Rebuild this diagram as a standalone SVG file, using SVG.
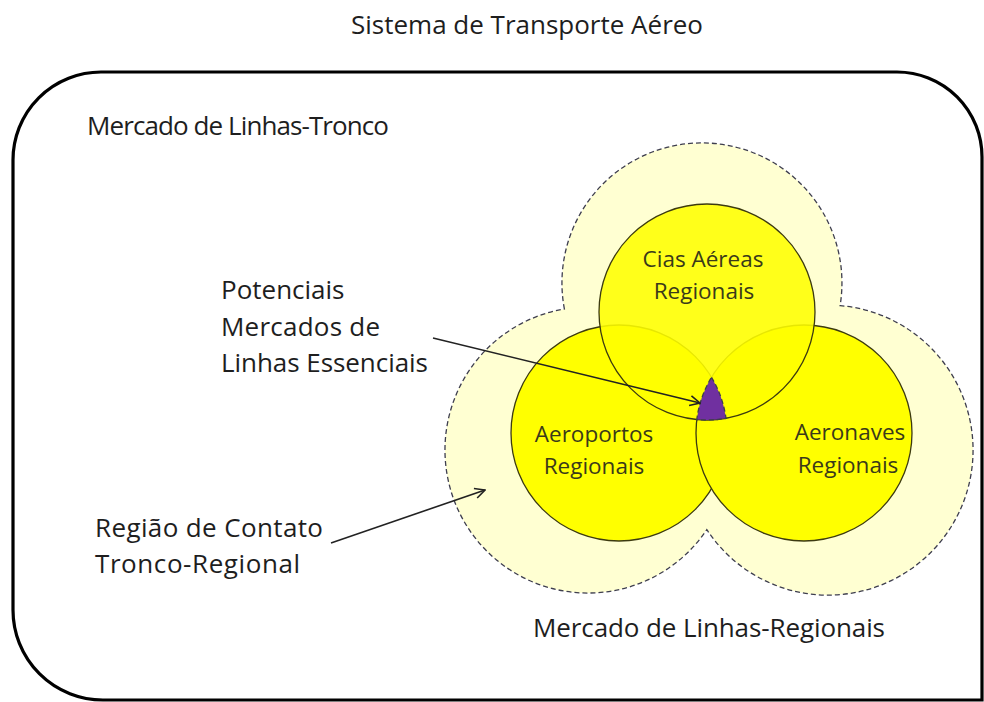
<svg xmlns="http://www.w3.org/2000/svg" width="984" height="702" viewBox="0 0 984 702">
<defs>
<style>
.t{font-family:"Open Sans","DejaVu Sans",sans-serif;font-size:26px;fill:#1e1e1e}
.c{font-family:"Open Sans","DejaVu Sans",sans-serif;font-size:22.5px;fill:#3a3a1a;text-anchor:middle}
.circ{fill:#ffff00;stroke:#3c3a10;stroke-width:1.3}
.dash{stroke:#3e3e4e;stroke-width:1.3;stroke-dasharray:5 3}
.arr{fill:none;stroke:#222;stroke-width:1.6}
</style>
<marker id="ah" viewBox="0 0 12 12" refX="11" refY="6" markerWidth="12" markerHeight="12" markerUnits="userSpaceOnUse" orient="auto">
<path d="M1,1 L11,6 L1,11" fill="none" stroke="#222" stroke-width="1.6"/>
</marker>
</defs>
<rect width="984" height="702" fill="#ffffff"/>
<g id="title"><text class="t" x="351" y="34" textLength="352">Sistema de Transporte Aéreo</text></g>
<g id="sistema">
<path d="M101,72 L897,72 A85,85 0 0 1 982,157 L982,700 L103,700 A90,90 0 0 1 13,610 L13,160 A88,88 0 0 1 101,72 Z" fill="none" stroke="#000" stroke-width="3.2"/>
<text class="t" x="87" y="135" textLength="302">Mercado de Linhas-Tronco</text>
</g>
<g id="regiao-contato">
<path d="M564.4,309 A140,140 0 1 1 840.1,305.6 A145,145 0 1 1 706.8,529.6 A143,143 0 1 1 564.4,309 Z" fill="#ffffd2" class="dash"/>
</g>
<g id="aeroportos">
<circle class="circ" cx="619" cy="433" r="108"/>
</g>
<g id="aeronaves">
<circle class="circ" cx="804" cy="433" r="108"/>
</g>
<g id="cias">
<circle class="circ" cx="707" cy="312" r="108" fill-opacity="0.88"/>
<text class="c" x="703" y="267">Cias Aéreas</text>
<text class="c" x="704" y="299">Regionais</text>
</g>
<g id="aeroportos-label">
<text class="c" x="594" y="442">Aeroportos</text>
<text class="c" x="594" y="474">Regionais</text>
</g>
<g id="aeronaves-label">
<text class="c" x="850" y="440">Aeronaves</text>
<text class="c" x="848" y="473">Regionais</text>
</g>
<g id="essenciais">
<path d="M711.5,377.3 A108,108 0 0 1 726,418.3 A108,108 0 0 1 696.8,419.5 A108,108 0 0 1 711.5,377.3 Z" fill="#7030a0" class="dash"/>
</g>
<g id="labels">
<text class="t" x="221" y="299">Potenciais</text>
<text class="t" x="221" y="336" textLength="159">Mercados de</text>
<text class="t" x="221" y="372" textLength="207">Linhas Essenciais</text>
<text class="t" x="95" y="537" textLength="228">Região de Contato</text>
<text class="t" x="95" y="573" textLength="205">Tronco-Regional</text>
<text class="t" x="533" y="637" textLength="352">Mercado de Linhas-Regionais</text>
</g>
<g id="connectors">
<line class="arr" x1="433" y1="338" x2="700" y2="403" marker-end="url(#ah)"/>
<line class="arr" x1="331" y1="543" x2="485" y2="490" marker-end="url(#ah)"/>
</g>
</svg>
